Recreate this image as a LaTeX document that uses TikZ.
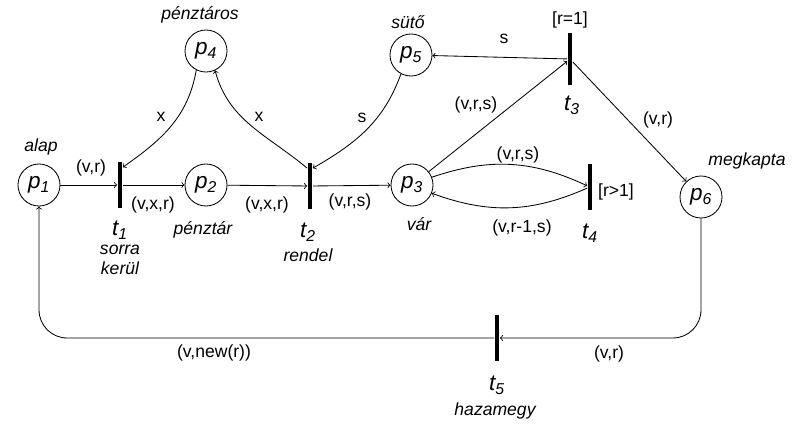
\documentclass[tikz,border=0pt]{standalone}
\usepackage{fontspec}
\setmainfont{Liberation Sans}

\begin{document}
\begin{tikzpicture}[x=0.025cm, y=0.025cm, line width=0.6pt,
    place/.style={draw, circle, minimum size=1.05cm, inner sep=0pt,
      font=\fontsize{16}{18}\selectfont\itshape},
    bar/.style={fill=black, inner sep=0pt, minimum width=0.12cm, minimum height=1.15cm},
    lbl/.style={font=\fontsize{12.5}{14}\selectfont},
    nm/.style={font=\fontsize{12.5}{14}\selectfont\itshape},
    tn/.style={font=\fontsize{16}{18}\selectfont\itshape}]
  \useasboundingbox (0,0) rectangle (802,423);

  % 位置
  \node[place] (p1) at (39,238) {p\textsubscript{1}};
  \node[place] (p2) at (206,238) {p\textsubscript{2}};
  \node[place] (p3) at (412,238) {p\textsubscript{3}};
  \node[place] (p4) at (206,372) {p\textsubscript{4}};
  \node[place] (p5) at (411,368) {p\textsubscript{5}};
  \node[place] (p6) at (701,226) {p\textsubscript{6}};

  % 变迁
  \node[bar] (t1) at (120,238) {};
  \node[bar] (t2) at (310,237) {};
  \node[bar, minimum height=1.3cm] (t3) at (570,364) {};
  \node[bar] (t4) at (590,236) {};
  \node[bar] (t5) at (497,85) {};

  % 名称
  \node[nm] (n1) at (41,276) {alap};
  \node[nm] (n2) at (203,193) {pénztár};
  \node[nm] (n3) at (419,199) {vár};
  \node[nm] (n4) at (200,408) {pénztáros};
  \node[nm] (n5) at (408,401) {sütő};
  \node[nm] (n6) at (747,262) {megkapta};
  \node[tn] (m1) at (120,193) {t\textsubscript{1}};
  \node[nm] (k1) at (120,173) {sorra};
  \node[nm] (k2) at (120,155) {kerül};
  \node[tn] (m2) at (308,191) {t\textsubscript{2}};
  \node[nm] (k3) at (308,168) {rendel};
  \node[tn] (m3) at (572,318) {t\textsubscript{3}};
  \node[tn] (m4) at (590,190) {t\textsubscript{4}};
  \node[tn] (m5) at (497,38) {t\textsubscript{5}};
  \node[nm] (k5) at (495,12) {hazamegy};
  \node[lbl] (g3) at (570,403) {[r=1]};
  \node[lbl] (g4) at (616,231) {[r>1]};

  % 弧
  \draw[->] (p1) -- (t1);
  \draw[->] (t1) -- (p2);
  \draw[->] (p2) -- (t2);
  \draw[->] (t2) -- (p3);
  \draw[->] (p4.-117) to[out=-100, in=35] ([yshift=-4pt]t1.north east);
  \draw[->] ([yshift=-4pt]t2.north west) to[out=140, in=-75] (p4.-65);
  \draw[->] (p5.-118) to[out=-110, in=30] ([yshift=-4pt]t2.north east);
  \draw[->] (p3) -- (t3);
  \draw[->] (t3) -- (p5);
  \draw[->] (t3) -- (p6);
  \draw[->] (p3) to[bend left=22] (t4);
  \draw[->] (t4) to[bend left=22] (p3);
  \draw[->, rounded corners=20pt] (p6) |- (t5);
  \draw[->, rounded corners=20pt] (t5) -| (p1);

  % 弧标注
  \node[lbl] (a1) at (91,255) {(v,r)};
  \node[lbl] (a2) at (153,218) {(v,x,r)};
  \node[lbl] (a3) at (267,218) {(v,x,r)};
  \node[lbl] (a4) at (350,221) {(v,r,s)};
  \node[lbl] (a5) at (161,306) {x};
  \node[lbl] (a6) at (259,306) {x};
  \node[lbl] (a7) at (362,305) {s};
  \node[lbl] (a8) at (504,384) {s};
  \node[lbl] (a9) at (476,318) {(v,r,s)};
  \node[lbl] (a10) at (658,303) {(v,r)};
  \node[lbl] (a11) at (518,268) {(v,r,s)};
  \node[lbl] (a12) at (522,195) {(v,r-1,s)};
  \node[lbl] (a13) at (214,70) {(v,new(r))};
  \node[lbl] (a14) at (609,69) {(v,r)};
\end{tikzpicture}
\end{document}
